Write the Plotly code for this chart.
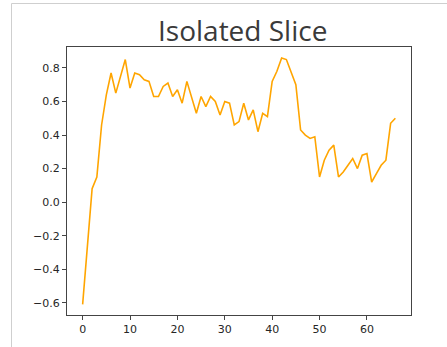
import plotly.graph_objects as go

x_values = list(range(67))
y_values = [-0.61, -0.26, 0.08, 0.15, 0.46, 0.64, 0.77, 0.65, 0.75, 0.85,
            0.68, 0.77, 0.76, 0.73, 0.72, 0.63, 0.63, 0.69, 0.71, 0.63,
            0.67, 0.59, 0.72, 0.63, 0.53, 0.63, 0.57, 0.63, 0.60, 0.52,
            0.60, 0.59, 0.46, 0.48, 0.59, 0.49, 0.55, 0.42, 0.53, 0.51,
            0.72, 0.78, 0.86, 0.85, 0.78, 0.70, 0.43, 0.40, 0.38, 0.39,
            0.15, 0.25, 0.31, 0.34, 0.15, 0.18, 0.22, 0.26, 0.20, 0.28,
            0.29, 0.12, 0.17, 0.22, 0.25, 0.47, 0.50]
x_ticks = [0, 10, 20, 30, 40, 50, 60]
y_ticks = [-0.6, -0.4, -0.2, 0.0, 0.2, 0.4, 0.6, 0.8]
y_tick_labels = ["\u22120.6", "\u22120.4", "\u22120.2", "0.0", "0.2", "0.4", "0.6", "0.8"]
title_text = "Isolated Slice"

W, H = 447, 347
L, R, T, B = 67, 36, 47, 32
pw, ph = W - L - R, H - T - B

fig = go.Figure()
fig.add_trace(go.Scatter(x=x_values, y=y_values, mode="lines",
                         line=dict(color="#FFA500", width=1.6),
                         showlegend=False, hoverinfo="skip"))

axis_common = dict(showline=True, mirror=True, linecolor="#444", linewidth=1,
                   ticks="outside", ticklen=4, tickwidth=1, tickcolor="#444",
                   showgrid=False, zeroline=False,
                   tickfont=dict(family="DejaVu Sans", size=11, color="#262626"))

fig.update_xaxes(range=[-3.3, 69.3], tickvals=x_ticks, **axis_common)
fig.update_yaxes(range=[-0.673, 0.925], tickvals=y_ticks, ticktext=y_tick_labels, **axis_common)

def px_x(p):
    return (p - L) / pw

def px_y(p):
    return (H - B - p) / ph

fig.add_shape(type="line", xref="paper", yref="paper",
              x0=px_x(11.5), x1=px_x(W + 5), y0=px_y(3.5), y1=px_y(3.5),
              line=dict(color="#cfcfcf", width=1))
fig.add_shape(type="line", xref="paper", yref="paper",
              x0=px_x(11.5), x1=px_x(11.5), y0=px_y(3.5), y1=px_y(H + 5),
              line=dict(color="#cfcfcf", width=1))

fig.add_annotation(text=title_text, xref="paper", yref="paper",
                   x=px_x(242), y=px_y(30), xanchor="center", yanchor="middle",
                   showarrow=False,
                   font=dict(family="Open Sans", size=28, color="#3a3a3a"))

fig.update_layout(width=W, height=H,
                  margin=dict(l=L, r=R, t=T, b=B, pad=0),
                  paper_bgcolor="white", plot_bgcolor="white")

fig.write_html("out.html", config={"displayModeBar": False, "staticPlot": True},
               post_script="document.body.style.margin='0';document.body.style.overflow='hidden';")
